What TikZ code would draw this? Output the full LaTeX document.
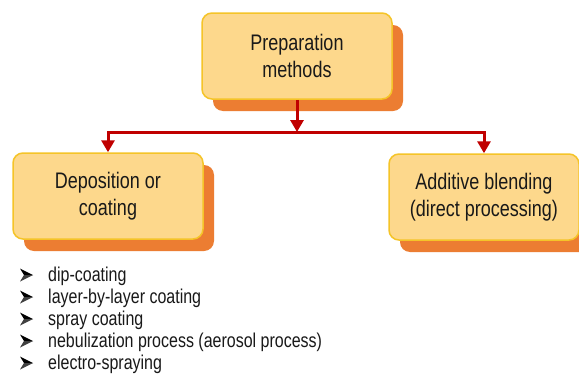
\documentclass[tikz,border=0pt]{standalone}
\usepackage{fontspec}
\setmainfont{Liberation Sans}[FakeStretch=0.8]
\usetikzlibrary{shadows, arrows.meta, positioning, calc}
\definecolor{boxfill}{RGB}{253,216,140}
\definecolor{boxline}{RGB}{245,196,40}
\definecolor{shadoworange}{RGB}{236,125,50}
\definecolor{arrowred}{RGB}{192,0,0}
\definecolor{txt}{RGB}{25,25,25}

\tikzset{
  method/.style={rounded corners=10pt, draw=boxline, line width=1.5pt, fill=boxfill,
    minimum width=190pt, minimum height=86pt, align=center, text=txt,
    font=\fontsize{22.5}{27}\selectfont,
    drop shadow={shadow xshift=11pt, shadow yshift=-12pt, fill=shadoworange, opacity=1}},
  link/.style={arrowred, line width=3pt, -{Triangle[width=13pt,length=12pt]}},
  item/.style={anchor=base west, inner sep=0pt, text=txt, font=\fontsize{20}{22}\selectfont}
}

\begin{document}
\begin{tikzpicture}[x=1pt,y=1pt]
\useasboundingbox[fill=white] (0,0) rectangle (579,-383);

\node[method] (prep) at (297,-56) {Preparation\\methods};
\node[method] (depo) at (108,-196) {Deposition or\\coating};
\node[method] (blend) at (484,-197) {Additive blending\\(direct processing)};

\coordinate (busline) at (0,-132);
\coordinate (bus) at (prep.south |- busline);

\draw[link] (prep.south) -- (bus);
\draw[link] (bus) -| (depo.north);
\draw[link] (bus) -| (blend.north);

% list of deposition techniques, with arrowhead bullets
\foreach \t [count=\i] in {dip-coating, layer-by-layer coating, spray coating,
    nebulization process (aerosol process), electro-spraying}
{
  \node[item] (it\i) at (48,{-281-22*(\i-1)}) {\t};
  \fill[black] ($(it\i.base west)+(-15,6)$) -- ++(-13,6.5) -- ++(4,-6.5) -- cycle;
  \fill[black!75] ($(it\i.base west)+(-15,6)$) -- ++(-9,0) -- ++(-4,-6.5) -- cycle;
}
\end{tikzpicture}
\end{document}
